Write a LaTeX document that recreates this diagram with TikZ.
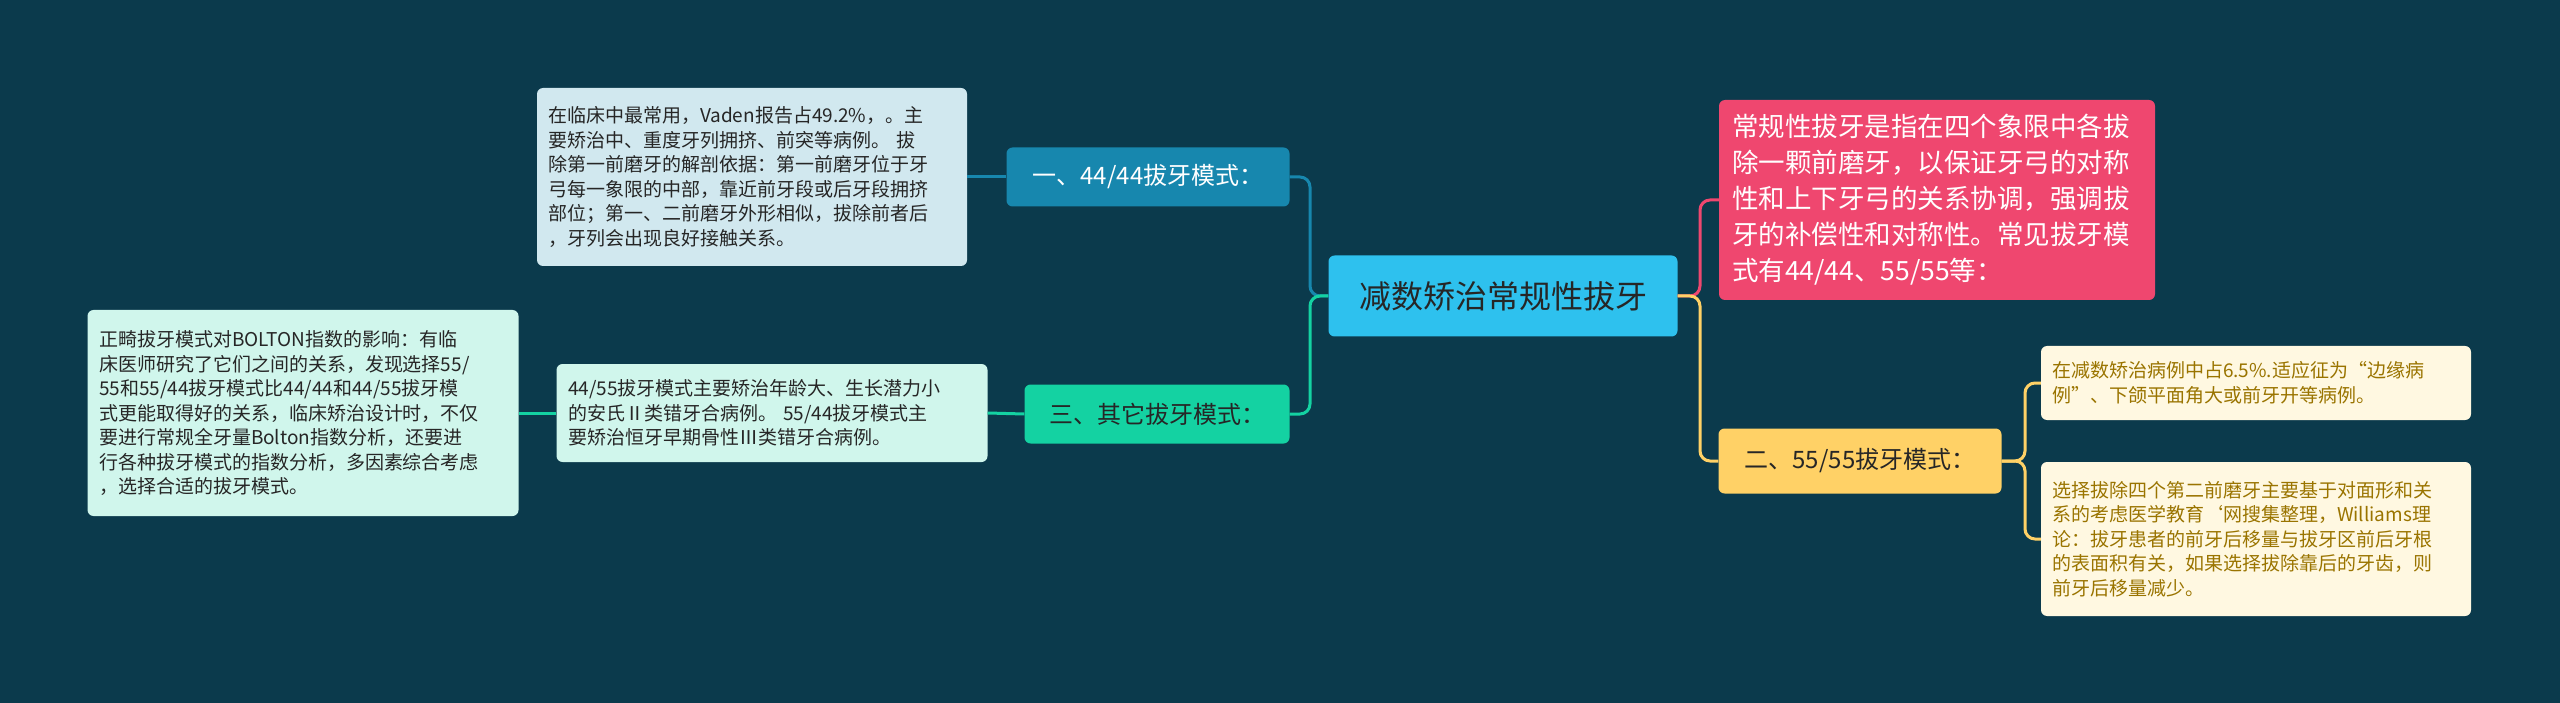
\documentclass[tikz,border=0pt]{standalone}
\usepackage{fontspec}
\setmainfont{Noto Sans CJK SC}
\definecolor{bg}{HTML}{0B3A4C}
\definecolor{cen}{HTML}{2EC1EE}
\definecolor{blu}{HTML}{1787AE}
\definecolor{bluleaf}{HTML}{D1E8EF}
\definecolor{grn}{HTML}{14D2A2}
\definecolor{grnleaf}{HTML}{D0F6EC}
\definecolor{pnk}{HTML}{EF476F}
\definecolor{yel}{HTML}{FFD166}
\definecolor{yelleaf}{HTML}{FFF8E1}
\definecolor{yeltxt}{HTML}{9A7400}
\begin{document}
\begin{tikzpicture}[x=1pt,y=-1pt,
  box/.style={rounded corners=6pt,inner sep=0pt,align=left},
  leaf/.style={box,font=\fontsize{19}{24.5}\selectfont,text=black!85},
  line/.style={line width=3pt,rounded corners=10pt}]
\fill[bg] (0,0) rectangle (2560,703);
\useasboundingbox (0,0) rectangle (2560,703);
% nodes
\node[box,fill=cen,minimum width=349pt,minimum height=81pt,align=center,font=\fontsize{32}{36}\selectfont,text=black!85] (c) at (1503,296) {减数矫治常规性拔牙};
\node[box,fill=blu,minimum width=283pt,minimum height=59pt,align=center,font=\fontsize{24}{28}\selectfont,text=white] (b1) at (1148,177) {一、44/44拔牙模式：};
\node[box,fill=grn,minimum width=265pt,minimum height=59pt,align=center,font=\fontsize{24}{28}\selectfont,text=black!85] (b3) at (1157,414) {三、其它拔牙模式：};
\node[box,fill=pnk,minimum width=436pt,minimum height=200pt,text width=410pt,font=\fontsize{26.5}{36}\selectfont,text=white] (p) at (1937,200) {常规性拔牙是指在四个象限中各拔\\除一颗前磨牙，以保证牙弓的对称\\性和上下牙弓的关系协调，强调拔\\牙的补偿性和对称性。常见拔牙模\\式有44/44、55/55等：};
\node[box,fill=yel,minimum width=283pt,minimum height=65pt,align=center,font=\fontsize{24}{28}\selectfont,text=black!85] (b2) at (1860,461) {二、55/55拔牙模式：};
\node[leaf,fill=bluleaf,minimum width=430pt,minimum height=178pt,text width=408pt] (l1) at (752,177) {在临床中最常用，Vaden报告占49.2\%，。主\\要矫治中、重度牙列拥挤、前突等病例。 拔\\除第一前磨牙的解剖依据：第一前磨牙位于牙\\弓每一象限的中部，靠近前牙段或后牙段拥挤\\部位；第一、二前磨牙外形相似，拔除前者后\\，牙列会出现良好接触关系。};
\node[leaf,fill=grnleaf,minimum width=431pt,minimum height=98pt,text width=408pt] (l3) at (772,413) {44/55拔牙模式主要矫治年龄大、生长潜力小\\的安氏Ⅱ类错牙合病例。 55/44拔牙模式主\\要矫治恒牙早期骨性Ⅲ类错牙合病例。};
\node[leaf,fill=grnleaf,minimum width=431pt,minimum height=206pt,text width=408pt] (l4) at (303,413) {正畸拔牙模式对BOLTON指数的影响：有临\\床医师研究了它们之间的关系，发现选择55/\\55和55/44拔牙模式比44/44和44/55拔牙模\\式更能取得好的关系，临床矫治设计时，不仅\\要进行常规全牙量Bolton指数分析，还要进\\行各种拔牙模式的指数分析，多因素综合考虑\\，选择合适的拔牙模式。};
\node[leaf,fill=yelleaf,text=yeltxt,minimum width=430pt,minimum height=74pt,text width=408pt] (y1) at (2256,383) {在减数矫治病例中占6.5\%.适应征为“边缘病\\例”、下颌平面角大或前牙开等病例。};
\node[leaf,fill=yelleaf,text=yeltxt,minimum width=430pt,minimum height=154pt,text width=408pt] (y2) at (2256,539) {选择拔除四个第二前磨牙主要基于对面形和关\\系的考虑医学教育`网搜集整理，Williams理\\论：拔牙患者的前牙后移量与拔牙区前后牙根\\的表面积有关，如果选择拔除靠后的牙齿，则\\前牙后移量减少。};
% connectors
\begin{scope}[on background layer/.style={}]
\end{scope}
\draw[line,blu] (c.west) -- (1310,296) |- (b1.east);
\draw[line,grn] (c.west) -- (1310,296) |- (b3.east);
\draw[line,pnk] (c.east) -- (1700,296) |- (p.west);
\draw[line,yel] (c.east) -- (1700,296) |- (b2.west);
\draw[line,blu] (b1.west) -- (l1.east);
\draw[line,grn] (b3.west) -- (l3.east);
\draw[line,grn] (l3.west) -- (l4.east);
\draw[line,yel] (b2.east) -- (2025,461) |- (y1.west);
\draw[line,yel] (b2.east) -- (2025,461) |- (y2.west);
\end{tikzpicture}
\end{document}
